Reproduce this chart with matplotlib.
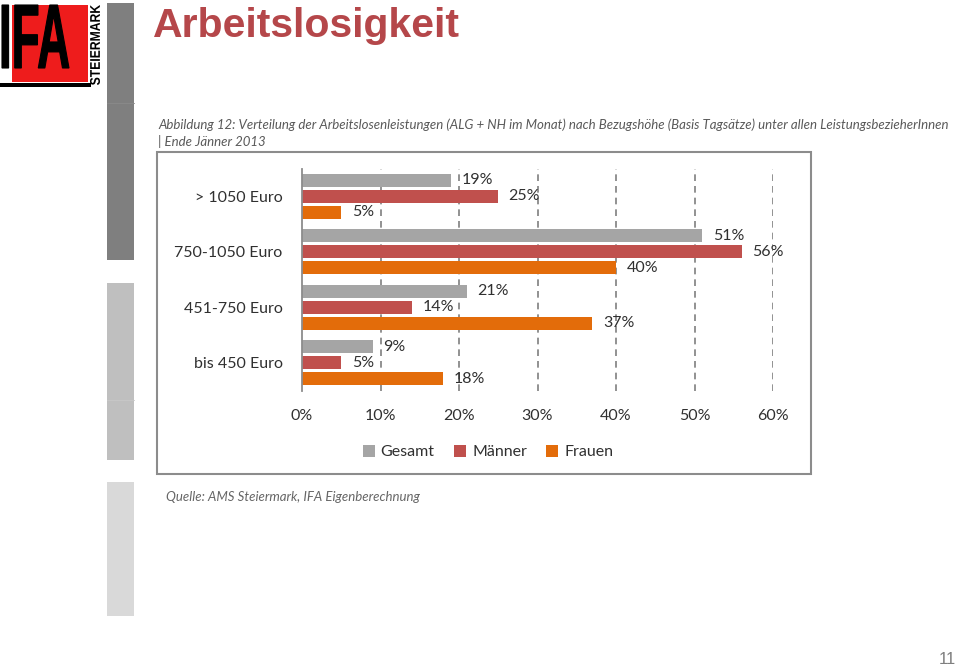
import matplotlib
matplotlib.use("Agg")
import matplotlib.pyplot as plt
from matplotlib.patches import Rectangle, PathPatch
from matplotlib.path import Path
from matplotlib.textpath import TextPath
from matplotlib.font_manager import FontProperties
from matplotlib.lines import Line2D
import numpy as np

# ---------------- data ----------------
categories = ["> 1050 Euro", "750-1050 Euro", "451-750 Euro", "bis 450 Euro"]
gesamt = [19, 51, 21, 9]
maenner = [25, 56, 14, 5]
frauen = [5, 40, 37, 18]
series_names = ["Gesamt", "Männer", "Frauen"]
series_colors = ["#a5a5a5", "#c0504d", "#e36c0a"]
xticks = [0, 10, 20, 30, 40, 50, 60]
xtick_labels = [f"{t}%" for t in xticks]

title = "Arbeitslosigkeit"
subtitle1 = ("Abbildung 12: Verteilung der Arbeitslosenleistungen (ALG + NH im Monat) nach "
             "Bezugshöhe (Basis Tagsätze) unter allen LeistungsbezieherInnen")
subtitle2 = "| Ende Jänner 2013"
source = "Quelle: AMS Steiermark, IFA Eigenberechnung"
page = "11"

W, H = 960, 668
fig = plt.figure(figsize=(W / 100, H / 100), dpi=100)
fig.patch.set_facecolor("white")

# ---------------- decoration overlay (pixel coords) ----------------
ov = fig.add_axes([0, 0, 1, 1], zorder=0)
ov.set_xlim(0, W)
ov.set_ylim(H, 0)
ov.axis("off")
ov.set_facecolor("none")

# left grey strips
ov.add_patch(Rectangle((107, 3), 27, 257, color="#7f7f7f", lw=0))
ov.plot([107, 134], [103, 103], color="#8a8a8a", lw=0.6)
ov.add_patch(Rectangle((107, 283), 27, 177, color="#bfbfbf", lw=0))
ov.plot([107, 134], [400, 400], color="#c8c8c8", lw=0.6)
ov.add_patch(Rectangle((107, 482), 27, 134, color="#d9d9d9", lw=0))

# logo
ov.add_patch(Rectangle((12, 5), 76, 77, color="#ee1c1c", lw=0))
ov.add_patch(Rectangle((0, 83), 91, 3.5, color="black", lw=0))


def fit_text_path(s, x0, y0, x1, y1, rotate=False):
    tp = TextPath((0, 0), s, size=10,
                  prop=FontProperties(family="Liberation Sans", weight="bold"))
    v = tp.vertices.copy()
    ex = tp.get_extents()
    tx = (v[:, 0] - ex.x0) / ex.width
    ty = (v[:, 1] - ex.y0) / ex.height
    nv = np.empty_like(v)
    if not rotate:
        nv[:, 0] = x0 + tx * (x1 - x0)
        nv[:, 1] = y1 - ty * (y1 - y0)
    else:
        nv[:, 0] = x1 - ty * (x1 - x0)
        nv[:, 1] = y1 - tx * (y1 - y0)
    return Path(nv, tp.codes)


ov.add_patch(PathPatch(fit_text_path("IFA", 2, 5, 69, 68), color="black", lw=0.8))
ov.add_patch(PathPatch(fit_text_path("STEIERMARK", 90, 5, 100, 85, rotate=True),
                       color="black", lw=0))

# title
ov.text(153, 37, title, fontsize=29.5, fontweight="bold", family="Liberation Sans",
        color="#b5474a", va="baseline", ha="left")

# subtitle
sub_kw = dict(fontsize=9.5, style="italic", family="Lato", color="#595959",
              va="center", ha="left")
ov.text(158, 125, subtitle1, **sub_kw)
ov.text(158, 141, subtitle2, **sub_kw)

# chart box
ov.add_patch(Rectangle((157, 152), 654, 322, fill=False, ec="#8c8c8c", lw=1.5))

# source
ov.text(166, 497, source, fontsize=9.5, style="italic", family="Lato",
        color="#666666", va="center", ha="left")

# page number
ov.text(956, 660, page, fontsize=12, family="Liberation Sans", color="#7f7f7f",
        va="center", ha="right")

# ---------------- chart ----------------
ax_left, ax_right = 302, 773
ax_top, ax_bot = 168.5, 390.5
ax = fig.add_axes([ax_left / W, 1 - ax_bot / H, (ax_right - ax_left) / W,
                   (ax_bot - ax_top) / H], zorder=1)
ax.set_facecolor("none")

y = np.arange(len(categories))
pitch = 0.29
bh = 0.235
text_color = "#303030"
fam = "Lato"
for i, (vals, col) in enumerate(zip([gesamt, maenner, frauen], series_colors)):
    pos = y + (i - 1) * pitch
    ax.barh(pos, vals, height=bh, color=col, zorder=3)
    for p, v in zip(pos, vals):
        ax.annotate(f"{v}%", (v, p), xytext=(7.5, 0), textcoords="offset points",
                    va="center", ha="left", fontsize=11.5, family=fam,
                    color=text_color, zorder=4)

ax.set_xlim(0, 60)
ax.set_ylim(len(categories) - 0.5, -0.5)
ax.set_xticks(xticks)
ax.set_xticklabels(xtick_labels, fontsize=11.5, family=fam, color=text_color)
ax.set_yticks(y)
ax.set_yticklabels(categories, fontsize=11.5, family=fam, color=text_color)
ax.tick_params(axis="x", length=0, pad=13)
ax.tick_params(axis="y", length=0, pad=14)

for t in xticks[1:]:
    ax.axvline(t, color="#7f7f7f", lw=1.2, ls=(0, (4, 3)), zorder=1)

for s in ["top", "right", "bottom"]:
    ax.spines[s].set_visible(False)
ax.spines["left"].set_color("#8c8c8c")
ax.spines["left"].set_linewidth(1.3)
ax.spines["left"].set_zorder(5)

handles = [Line2D([], [], marker="s", ls="none", markersize=8.5, color=c,
                  markeredgewidth=0) for c in series_colors]
fig.legend(handles, series_names, loc="center", bbox_to_anchor=(487 / W, 1 - 452 / H),
           ncol=3, frameon=False, handletextpad=0.25, columnspacing=1.1,
           handlelength=1.0, prop=FontProperties(family=fam, size=11.5),
           labelcolor=text_color)

fig.savefig("out.png", dpi=100, facecolor="white")
